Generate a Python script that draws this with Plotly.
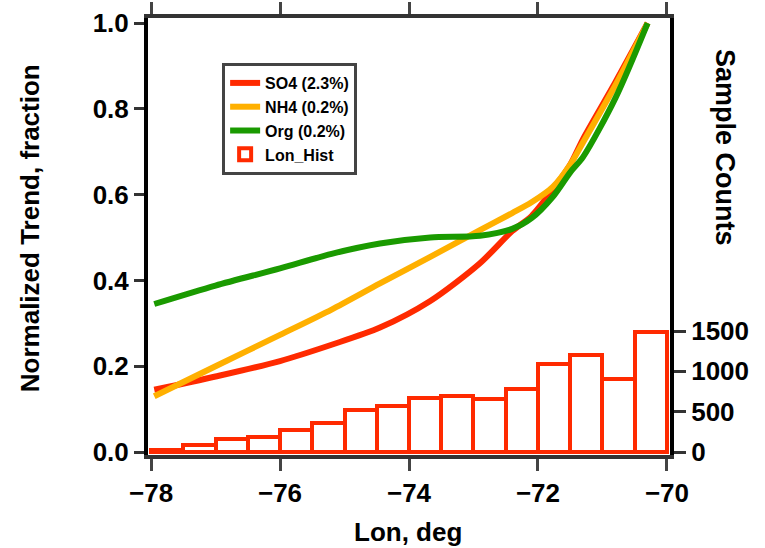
import plotly.graph_objects as go

# Longitude samples for the normalized trend curves
lon = [-77.95, -77.0, -76.0, -75.2, -74.45, -73.67, -72.9, -72.4, -72.1,
       -71.77, -71.5, -71.3, -70.8, -70.3]
so4 = [0.145, 0.176, 0.212, 0.250, 0.290, 0.352, 0.440, 0.515, 0.550,
       0.612, 0.670, 0.730, 0.862, 1.0]
nh4 = [0.130, 0.200, 0.273, 0.332, 0.393, 0.455, 0.517, 0.557, 0.582,
       0.618, 0.670, 0.722, 0.855, 1.0]
org = [0.345, 0.388, 0.428, 0.462, 0.486, 0.500, 0.504, 0.520, 0.545,
       0.595, 0.652, 0.688, 0.825, 1.0]

# Longitude histogram (0.5 deg bins from -78 to -70)
hist_centers = [-77.75, -77.25, -76.75, -76.25, -75.75, -75.25, -74.75, -74.25,
                -73.75, -73.25, -72.75, -72.25, -71.75, -71.25, -70.75, -70.25]
hist_counts = [30, 90, 160, 180, 270, 360, 520, 565,
               665, 690, 660, 785, 1090, 1205, 910, 1485]

legend_names = ["SO4 (2.3%)", "NH4 (0.2%)", "Org (0.2%)", "Lon_Hist"]
x_ticks = [-78, -76, -74, -72, -70]
y_ticks = [0.0, 0.2, 0.4, 0.6, 0.8, 1.0]
y2_ticks = [0, 500, 1000, 1500]

RED = "#ff2a00"
ORANGE = "#ffb000"
GREEN = "#1a9a00"
FONT = "Liberation Sans"

fig = go.Figure()

fig.add_trace(go.Bar(
    x=hist_centers, y=hist_counts, width=0.5, yaxis="y2",
    marker=dict(color="white", line=dict(color=RED, width=4)),
    name=legend_names[3], legendrank=4,
))
for rank, (name, vals, col) in enumerate([(legend_names[0], so4, RED),
                                          (legend_names[1], nh4, ORANGE),
                                          (legend_names[2], org, GREEN)], 1):
    fig.add_trace(go.Scatter(
        x=lon, y=vals, mode="lines", name=name, legendrank=rank,
        line=dict(color=col, width=6, shape="spline", smoothing=0.8),
    ))

tickfont = dict(family=FONT, size=26, color="black", weight="bold")

fig.update_layout(
    width=765, height=548,
    margin=dict(l=148, r=95, t=18, b=93),
    paper_bgcolor="white", plot_bgcolor="white",
    showlegend=True,
    bargap=0,
    legend=dict(
        x=0.142, y=0.897, xanchor="left", yanchor="top",
        bgcolor="white", bordercolor="#444", borderwidth=3,
        font=dict(family=FONT, size=16, color="black", weight="bold"),
        tracegroupgap=0, itemwidth=30,
    ),
    xaxis=dict(
        range=[-78.047, -69.953], tickvals=x_ticks, automargin=False,
        ticks="outside", ticklen=12, tickwidth=3, tickcolor="#444",
        showline=True, linecolor="#333", linewidth=4, mirror="ticks",
        showgrid=False, zeroline=False, tickfont=tickfont,
    ),
    yaxis=dict(
        range=[-0.007, 1.0117], tickvals=y_ticks, tickformat=".1f",
        automargin=False,
        ticks="outside", ticklen=10, tickwidth=3, tickcolor="#333",
        showline=True, linecolor="black", linewidth=4,
        showgrid=False, zeroline=False, tickfont=tickfont,
    ),
    yaxis2=dict(
        overlaying="y", side="right", automargin=False,
        range=[-37, 5380], tickvals=y2_ticks,
        ticks="outside", ticklen=12, tickwidth=3, tickcolor="#333",
        showline=True, linecolor="black", linewidth=4,
        showgrid=False, zeroline=False, tickfont=tickfont,
    ),
    annotations=[
        dict(text="Normalized Trend, fraction", xref="paper", yref="paper",
             x=-0.226, y=0.519, textangle=-90, showarrow=False,
             xanchor="center", yanchor="middle",
             font=dict(family=FONT, size=26, color="black", weight="bold")),
        dict(text="Sample Counts", xref="paper", yref="paper",
             x=1.105, y=0.703, textangle=90, showarrow=False,
             xanchor="center", yanchor="middle",
             font=dict(family=FONT, size=27, color="black", weight="bold")),
        dict(text="Lon, deg", xref="paper", yref="paper",
             x=0.498, y=-0.176, showarrow=False,
             xanchor="center", yanchor="middle",
             font=dict(family=FONT, size=26, color="black", weight="bold")),
    ],
)

fig.write_html("out.html")
